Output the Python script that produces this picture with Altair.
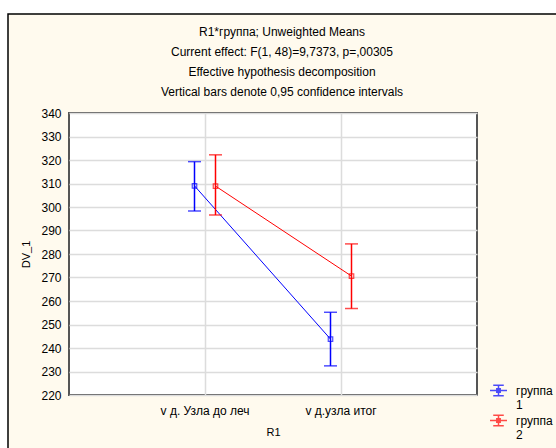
import altair as alt
import pandas as pd

# ---- data ----
categories = ["v д. Узла до леч", "v д.узла итог"]
groups = ["1", "2"]
means_g1 = [309.0, 243.8]
lower_g1 = [298.3, 232.4]
upper_g1 = [319.3, 255.2]
means_g2 = [308.9, 270.6]
lower_g2 = [296.6, 256.8]
upper_g2 = [322.2, 284.3]
y_ticks = list(range(220, 341, 10))
title_lines = [
    "R1*группа; Unweighted Means",
    "Current effect: F(1, 48)=9,7373, p=,00305",
    "Effective hypothesis decomposition",
    "Vertical bars denote 0,95 confidence intervals",
]

rows = []
for g, m, lo, hi in [("1", means_g1, lower_g1, upper_g1), ("2", means_g2, lower_g2, upper_g2)]:
    for c, mv, l, h in zip(categories, m, lo, hi):
        rows.append({"R1": c, "group": g, "mean": mv, "lo": l, "hi": h})
df = pd.DataFrame(rows)

FONT = "Liberation Sans"
CREAM = "#FFFAEE"

x_enc = alt.X(
    "R1:N", sort=categories, title="R1",
    scale=alt.Scale(paddingInner=0, paddingOuter=0.5),
    axis=alt.Axis(labelAngle=0, grid=True, bandPosition=0.5, ticks=False, tickSize=0,
                  labelPadding=10, titlePadding=10, domain=False),
)
xoff = alt.XOffset("group:N", sort=groups,
                   scale=alt.Scale(paddingInner=0, paddingOuter=0, range=[47, 89]))
y_scale = alt.Scale(domain=[220, 340], nice=False, zero=False)
y_axis = alt.Axis(values=y_ticks, grid=True, ticks=False, tickSize=0, tickCount=13,
                  labelPadding=8, titlePadding=9, domain=False, labelOverlap=False,
                  title="DV_1")
color_scale = alt.Scale(domain=groups, range=["#0000FF", "#FF0000"])
symbol_path = ("M-1,0H1M0,-0.62V0.62M-0.62,-0.62H0.62M-0.62,0.62H0.62"
               "M-0.2,-0.2H0.2V0.2H-0.2Z")
legend = alt.Legend(title=None, orient="none", legendX=420, legendY=268,
                    symbolType=symbol_path, symbolSize=289,
                    symbolStrokeWidth=1.5, symbolFillColor="transparent",
                    labelExpr="['группа', datum.label]",
                    labelFontSize=12, labelFont=FONT, labelColor="black",
                    labelOffset=8, padding=0, rowPadding=-3,
                    labelBaseline="middle")
color_enc = alt.Color("group:N", sort=groups, scale=color_scale, legend=legend)


def yq(field):
    return alt.Y(field, type="quantitative", scale=y_scale, axis=y_axis, title="DV_1")


base = alt.Chart(df).encode(x=x_enc, xOffset=xoff, color=color_enc)

lines = base.mark_line(strokeWidth=1).encode(y=yq("mean"), detail="group:N")
bars = base.mark_rule(strokeWidth=1.5).encode(y=yq("lo"), y2="hi:Q")
cap_lo = base.mark_tick(size=13, thickness=1.5).encode(y=yq("lo"))
cap_hi = base.mark_tick(size=13, thickness=1.5).encode(y=yq("hi"))
points = base.mark_point(shape="square", filled=False, size=20, strokeWidth=1.2).encode(
    y=yq("mean"))

one = alt.Data(values=[{"k": 1}])
white_top = alt.Chart(one).mark_rect(color="white").encode(
    x=alt.value(-69), x2=alt.value(487), y=alt.value(-113), y2=alt.value(-99))
white_left = alt.Chart(one).mark_rect(color="white").encode(
    x=alt.value(-69), x2=alt.value(-61), y=alt.value(-99), y2=alt.value(335))
border = alt.Chart(one).mark_rect(fillOpacity=0, stroke="black", strokeWidth=1.5).encode(
    x=alt.value(-61), x2=alt.value(700), y=alt.value(-99), y2=alt.value(600))

chart = alt.layer(
    white_top, white_left, border, lines, bars, cap_lo, cap_hi, points
).properties(
    width=408, height=282,
    autosize=alt.AutoSizeParams(type="none"),
    padding={"left": 69, "top": 113, "right": 79, "bottom": 53},
    background=CREAM,
    title=alt.TitleParams(text=title_lines, fontSize=12, font=FONT, fontWeight="normal",
                          lineHeight=20, anchor="middle", offset=14, dx=9, dy=113,
                          color="black", baseline="top"),
).configure_view(
    fill="white", stroke="#555555", strokeWidth=2,
).configure_axis(
    labelFont=FONT, titleFont=FONT, labelFontSize=12, titleFontSize=11,
    titleFontWeight="normal", labelColor="black", titleColor="black",
    gridColor="#dcdcdc", gridWidth=1.5,
)

chart.save("out.html", embed_options={"renderer": "svg", "actions": False})
